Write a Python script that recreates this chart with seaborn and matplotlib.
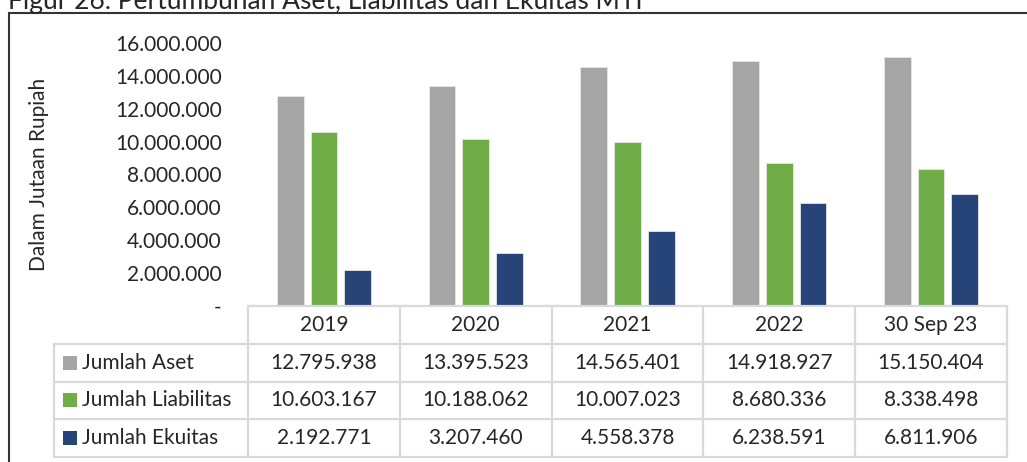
import numpy as np
import pandas as pd
import seaborn as sns
import matplotlib.pyplot as plt
from matplotlib.patches import Rectangle

periode = ["2019", "2020", "2021", "2022", "30 Sep 23"]
seri = ["Jumlah Aset", "Jumlah Liabilitas", "Jumlah Ekuitas"]
aset = [12795938, 13395523, 14565401, 14918927, 15150404]
liabilitas = [10603167, 10188062, 10007023, 8680336, 8338498]
ekuitas = [2192771, 3207460, 4558378, 6238591, 6811906]
warna = ["#a5a5a5", "#70ad47", "#264478"]
y_ticks = [0, 2000000, 4000000, 6000000, 8000000, 10000000, 12000000, 14000000, 16000000]

judul = "Figur 26. Pertumbuhan Aset, Liabilitas dan Ekuitas MTI"
label_y = "Dalam Jutaan Rupiah"


def fmt_id(v):
    if v == 0:
        return "-"
    return f"{int(v):,}".replace(",", ".")


df = pd.DataFrame({
    "periode": periode * 3,
    "seri": [s for s in seri for _ in periode],
    "nilai": aset + liabilitas + ekuitas,
})

sns.set_style("white")
plt.rcParams["font.family"] = ["Lato", "DejaVu Sans"]

W, H = 1027, 462
fig = plt.figure(figsize=(W / 100, H / 100), dpi=100)

# chart area
ax = fig.add_axes([248 / W, 1 - 306 / H, (1007 - 248) / W, (306 - 43) / H])
sns.barplot(
    data=df, x="periode", y="nilai", hue="seri", order=periode, hue_order=seri,
    palette=warna, width=0.666, gap=0.21, ax=ax, legend=False,
    edgecolor="#e6e6e6", linewidth=0.6, saturation=1,
)
ax.set_xlim(-0.5, len(periode) - 0.5)
ax.set_ylim(0, 16000000)
ax.set_yticks(y_ticks)
ax.set_yticklabels([fmt_id(v) for v in y_ticks], fontsize=15)
ax.tick_params(axis="y", length=0, pad=19)
ax.set_xticks([])
ax.set_xlabel("")
ax.set_ylabel(label_y, fontsize=15)
ax.yaxis.set_label_coords(-0.262, 0.5)
for sp in ax.spines.values():
    sp.set_visible(False)
ax.patch.set_alpha(0)

# data table below the chart
tax = fig.add_axes([54 / W, 1 - 457 / H, (1007 - 54) / W, (457 - 306) / H])
lab_w = 194 / 151.8
x0 = -0.5 - lab_w
n = len(periode)
tax.set_xlim(x0, n - 0.5)
tax.set_ylim(4, 0)
tax.axis("off")
grid_c = "#d9d9d9"
tax.plot([-0.5, n - 0.5], [0, 0], color=grid_c, lw=1.6, clip_on=False)
for r in range(1, 5):
    tax.plot([x0, n - 0.5], [r, r], color=grid_c, lw=1.6, clip_on=False)
tax.plot([x0, x0], [1, 4], color=grid_c, lw=1.6, clip_on=False)
for c in range(n + 1):
    tax.plot([c - 0.5, c - 0.5], [0, 4], color=grid_c, lw=1.6, clip_on=False)

for c, p in enumerate(periode):
    tax.text(c, 0.5, p, ha="center", va="center", fontsize=15)

for r, (nama, vals, col) in enumerate(zip(seri, [aset, liabilitas, ekuitas], warna), start=1):
    tax.add_patch(Rectangle((x0 + 9 / 151.8, r + 0.5 - 7 / 37.75), 14 / 151.8, 14 / 37.75,
                            facecolor=col, edgecolor="none"))
    tax.text(x0 + 28 / 151.8, r + 0.5, nama, ha="left", va="center", fontsize=15)
    for c, v in enumerate(vals):
        tax.text(c, r + 0.5, fmt_id(v), ha="center", va="center", fontsize=15)

# frame and cropped caption (the source image is cut through the caption)
fig.add_artist(Rectangle((9 / W, -0.1), 1.2, 1 - 13 / H + 0.1, fill=False,
                         edgecolor="#333333", lw=1.5, transform=fig.transFigure))
fig.text(8 / W, 1 - 9 / H, judul, ha="left", va="baseline", fontsize=19)

fig.savefig("out.png", dpi=100)
